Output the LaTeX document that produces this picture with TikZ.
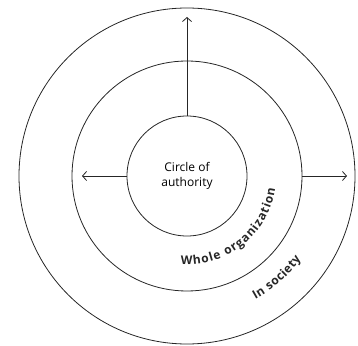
\documentclass[tikz,border=0pt]{standalone}
\usepackage{fontspec}
\setmainfont{Open Sans}
\usetikzlibrary{arrows.meta,decorations.text}
\begin{document}
\begin{tikzpicture}[x=1pt,y=1pt,
  ring/.style={circle,draw=black!85,line width=0.8pt,inner sep=0pt,outer sep=0pt},
  arr/.style={draw=black!85,line width=0.8pt,-{Straight Barb[length=4pt,width=9pt]}},
  curvetext/.style={decorate,decoration={text along path,text align=fit to path,text color=black!85}}]
\useasboundingbox (0,0) rectangle (358,345);
\coordinate (C) at (187,169);
\node[ring,minimum size=336pt] (outer) at (C) {};
\node[ring,minimum size=230pt] (middle) at (C) {};
\node[ring,minimum size=120pt,align=center,font=\fontsize{12}{15}\selectfont] (inner) at (C) {Circle of\\authority};
\coordinate (topend) at (187,328);
\coordinate (leftend) at (82,169);
\coordinate (rightend) at (347,169);
\draw[arr] (inner.north) -- (topend);
\draw[arr] (inner.west) -- (leftend);
\draw[arr] (middle.east) -- (rightend);
\path[curvetext,decoration={text={|\fontsize{12}{14}\selectfont\bfseries|Whole organization}}]
  (C) ++(-94:89) arc[start angle=-94,end angle=-8,radius=89];
\path[curvetext,decoration={text={|\fontsize{12}{14}\selectfont\bfseries|In society}}]
  (C) ++(-61:141) arc[start angle=-61,end angle=-36,radius=141];
\end{tikzpicture}
\end{document}
